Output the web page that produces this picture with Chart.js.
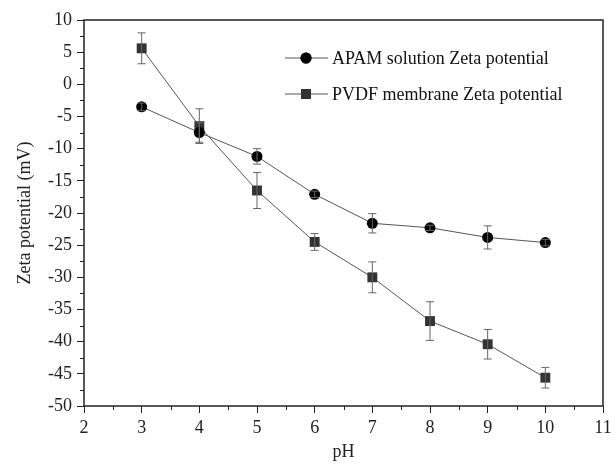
<!DOCTYPE html>
<html>
<head>
<meta charset="utf-8">
<script src="https://cdn.jsdelivr.net/npm/chart.js@4/dist/chart.umd.min.js"></script>
<style>
  html, body { margin: 0; padding: 0; background: #fff; }
  #wrap { width: 616px; height: 469px; }
</style>
</head>
<body>
<div id="wrap"><canvas id="zetaChart" width="616" height="469"></canvas></div>
<script>
// pH values and measured zeta potentials (mV)
const phValues = [3, 4, 5, 6, 7, 8, 9, 10];
const apamZeta = [-3.5, -7.5, -11.2, -17.1, -21.6, -22.3, -23.8, -24.6];
const apamErr = [0.6, 1.5, 1.2, 0.5, 1.5, 0.4, 1.8, 0.5];
const pvdfZeta = [5.6, -6.5, -16.5, -24.5, -30.0, -36.8, -40.4, -45.6];
const pvdfErr = [2.4, 2.7, 2.8, 1.3, 2.4, 3.0, 2.3, 1.6];

const serif = 'Liberation Serif';

function toPoints(ys) {
  return phValues.map((x, i) => ({ x: x, y: ys[i] }));
}

// error bars
const errorBars = {
  id: 'errorBars',
  afterDatasetsDraw(chart) {
    const ctx = chart.ctx;
    const xs = chart.scales.x, ys = chart.scales.y;
    const sets = [[apamZeta, apamErr], [pvdfZeta, pvdfErr]];
    ctx.save();
    ctx.strokeStyle = '#666';
    ctx.lineWidth = 1;
    sets.forEach(([vals, errs]) => {
      phValues.forEach((p, i) => {
        const px = xs.getPixelForValue(p);
        const top = ys.getPixelForValue(vals[i] + errs[i]);
        const bot = ys.getPixelForValue(vals[i] - errs[i]);
        ctx.beginPath();
        ctx.moveTo(px, top); ctx.lineTo(px, bot);
        ctx.moveTo(px - 4, top); ctx.lineTo(px + 4, top);
        ctx.moveTo(px - 4, bot); ctx.lineTo(px + 4, bot);
        ctx.stroke();
      });
    });
    ctx.restore();
  }
};

// frame, minor ticks and the line-marker-line legend
const frame = {
  id: 'frame',
  afterDraw(chart) {
    const ctx = chart.ctx;
    const a = chart.chartArea;
    const xs = chart.scales.x, ys = chart.scales.y;
    ctx.save();
    ctx.strokeStyle = '#222';
    ctx.lineWidth = 1.5;
    ctx.strokeRect(a.left, a.top, a.right - a.left, a.bottom - a.top);

    // minor ticks
    ctx.lineWidth = 1;
    ctx.beginPath();
    for (let v = ys.min + 2.5; v < ys.max; v += 5) {
      const py = Math.round(ys.getPixelForValue(v)) + 0.5;
      ctx.moveTo(a.left - 4, py); ctx.lineTo(a.left, py);
    }
    for (let v = xs.min + 0.5; v < xs.max; v += 1) {
      const px = Math.round(xs.getPixelForValue(v)) + 0.5;
      ctx.moveTo(px, a.bottom); ctx.lineTo(px, a.bottom + 4);
    }
    ctx.stroke();

    // legend
    const rows = [
      { label: 'APAM solution Zeta potential', style: 'circle', color: '#000', r: 5.5 },
      { label: 'PVDF membrane Zeta potential', style: 'rect', color: '#333', r: 7 }
    ];
    ctx.font = '18px "' + serif + '"';
    ctx.textBaseline = 'middle';
    rows.forEach((row, i) => {
      const y = 58 + i * 36;
      ctx.strokeStyle = '#555';
      ctx.lineWidth = 1;
      ctx.beginPath();
      ctx.moveTo(285, y); ctx.lineTo(328, y);
      ctx.stroke();
      ctx.fillStyle = row.color;
      Chart.helpers.drawPoint(ctx, { pointStyle: row.style, radius: row.r, borderWidth: 0 }, 306, y);
      ctx.fill();
      ctx.fillStyle = '#111';
      ctx.fillText(row.label, 332, y + 1);
    });
    ctx.restore();
  }
};

const config = {
  type: 'line',
  data: {
    datasets: [
      {
        label: 'APAM solution Zeta potential',
        data: toPoints(apamZeta),
        borderColor: '#555',
        borderWidth: 1,
        pointStyle: 'circle',
        pointRadius: 5.5,
        pointBackgroundColor: '#000',
        pointBorderColor: '#000',
        pointBorderWidth: 0
      },
      {
        label: 'PVDF membrane Zeta potential',
        data: toPoints(pvdfZeta),
        borderColor: '#555',
        borderWidth: 1,
        pointStyle: 'rect',
        pointRadius: 7,
        pointBackgroundColor: '#333',
        pointBorderColor: '#333',
        pointBorderWidth: 0
      }
    ]
  },
  options: {
    responsive: false,
    animation: false,
    layout: { padding: { top: 20, right: 13, left: 0, bottom: 0 } },
    plugins: {
      legend: { display: false },
      tooltip: { enabled: false }
    },
    scales: {
      x: {
        type: 'linear',
        min: 2,
        max: 11,
        afterFit(scale) { scale.height = 63; },
        ticks: {
          stepSize: 1,
          padding: 4,
          color: '#222',
          font: { family: serif, size: 18 }
        },
        grid: { drawOnChartArea: false, tickLength: 7, color: '#222' },
        border: { display: false },
        title: {
          display: true,
          text: 'pH',
          color: '#222',
          font: { family: serif, size: 18 },
          padding: { top: 0, bottom: 6 }
        }
      },
      y: {
        min: -50,
        max: 10,
        afterFit(scale) { scale.width = 84; },
        ticks: {
          stepSize: 5,
          padding: 5,
          color: '#222',
          font: { family: serif, size: 18 },
          callback: v => String(v)
        },
        grid: { drawOnChartArea: false, tickLength: 7, color: '#222' },
        border: { display: false },
        title: {
          display: true,
          text: 'Zeta potential (mV)',
          color: '#222',
          font: { family: serif, size: 18 },
          padding: { top: 14, bottom: 0 }
        }
      }
    }
  },
  plugins: [errorBars, frame]
};

new Chart(document.getElementById('zetaChart').getContext('2d'), config);
</script>
</body>
</html>
